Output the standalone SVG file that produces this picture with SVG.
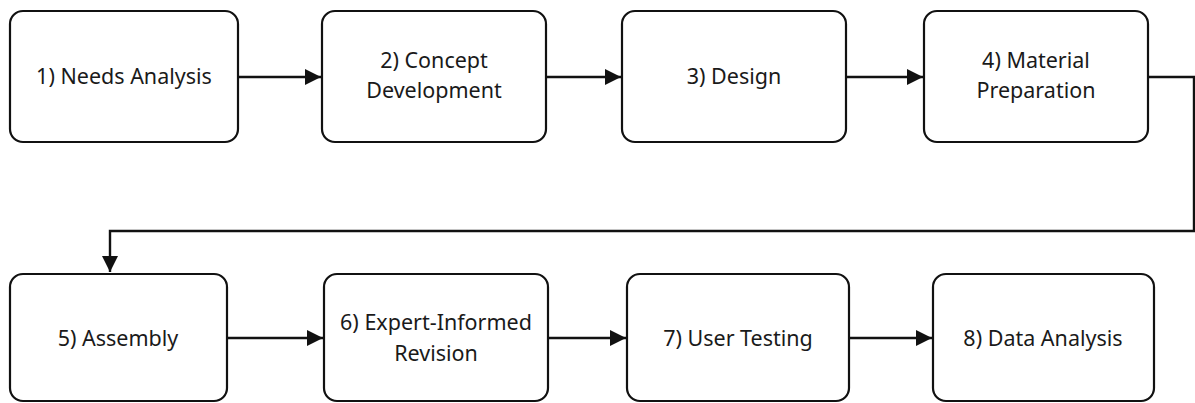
<svg xmlns="http://www.w3.org/2000/svg" width="1195" height="403" viewBox="0 0 1195 403">
<style>
.box{fill:#fff;stroke:#111;stroke-width:2.2}
.lbl{font-family:"Noto Sans","Open Sans",sans-serif;font-size:21.5px;fill:#1a1a1a;text-anchor:middle}
.conn{fill:none;stroke:#111;stroke-width:2.4}
</style>
<defs>
<marker id="ah" viewBox="0 0 16 16" refX="16" refY="8" markerWidth="16" markerHeight="16" markerUnits="userSpaceOnUse" orient="auto">
<path d="M0,0 L16,8 L0,16 Z" fill="#111"/>
</marker>
</defs>
<rect width="1195" height="403" fill="#fff"/>
<g id="connectors">
<path class="conn" d="M238,77 H321" marker-end="url(#ah)"/>
<path class="conn" d="M546,77 H621" marker-end="url(#ah)"/>
<path class="conn" d="M846,77 H923" marker-end="url(#ah)"/>
<path class="conn" d="M1148,77 H1194 V231 H110 V272" marker-end="url(#ah)"/>
<path class="conn" d="M227,338 H323" marker-end="url(#ah)"/>
<path class="conn" d="M548,338 H626" marker-end="url(#ah)"/>
<path class="conn" d="M849,338 H932" marker-end="url(#ah)"/>
</g>
<g id="n1"><rect class="box" x="10" y="11" width="228" height="131" rx="13"/><text class="lbl" x="124" y="84">1) Needs Analysis</text></g>
<g id="n2"><rect class="box" x="322" y="11" width="224" height="131" rx="13"/><text class="lbl" x="434" y="68">2) Concept</text><text class="lbl" x="434" y="98">Development</text></g>
<g id="n3"><rect class="box" x="622" y="11" width="224" height="131" rx="13"/><text class="lbl" x="734" y="84">3) Design</text></g>
<g id="n4"><rect class="box" x="924" y="11" width="224" height="131" rx="13"/><text class="lbl" x="1036" y="68">4) Material</text><text class="lbl" x="1036" y="98">Preparation</text></g>
<g id="n5"><rect class="box" x="10" y="274" width="217" height="127" rx="13"/><text class="lbl" x="118" y="346">5) Assembly</text></g>
<g id="n6"><rect class="box" x="324" y="274" width="224" height="127" rx="13"/><text class="lbl" x="436" y="330">6) Expert-Informed</text><text class="lbl" x="436" y="361">Revision</text></g>
<g id="n7"><rect class="box" x="627" y="274" width="222" height="127" rx="13"/><text class="lbl" x="738" y="346">7) User Testing</text></g>
<g id="n8"><rect class="box" x="933" y="274" width="221" height="127" rx="13"/><text class="lbl" x="1043" y="346">8) Data Analysis</text></g>
</svg>
